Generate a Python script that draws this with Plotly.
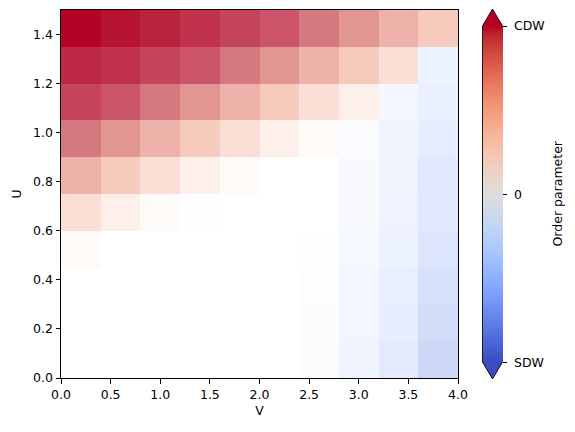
import plotly.graph_objects as go

# ---------------- data ----------------
V_centers = [0.2, 0.6, 1.0, 1.4, 1.8, 2.2, 2.6, 3.0, 3.4, 3.8]
U_centers = [0.075, 0.225, 0.375, 0.525, 0.675, 0.825, 0.975, 1.125, 1.275, 1.425]

# order parameter (+ CDW, - SDW), rows from U=0 (bottom) upward
order_row_u0 = [0, 0, 0, 0, 0, 0, -0.025, -0.10, -0.18, -0.30]
order_row_u1 = [0, 0, 0, 0, 0, 0, -0.02, -0.08, -0.15, -0.27]
order_row_u2 = [0, 0, 0, 0, 0, 0, -0.015, -0.07, -0.14, -0.25]
order_row_u3 = [0.03, 0, 0, 0, 0, 0, -0.01, -0.06, -0.12, -0.22]
order_row_u4 = [0.20, 0.10, 0.03, 0.005, 0, 0, 0, -0.04, -0.11, -0.19]
order_row_u5 = [0.42, 0.30, 0.20, 0.10, 0.03, 0, 0, -0.04, -0.10, -0.19]
order_row_u6 = [0.66, 0.55, 0.42, 0.30, 0.20, 0.10, 0.03, -0.03, -0.09, -0.16]
order_row_u7 = [0.83, 0.78, 0.66, 0.55, 0.42, 0.30, 0.20, 0.10, -0.07, -0.13]
order_row_u8 = [0.91, 0.88, 0.83, 0.78, 0.66, 0.55, 0.42, 0.30, 0.20, -0.12]
order_row_u9 = [1.00, 0.97, 0.93, 0.88, 0.83, 0.78, 0.66, 0.55, 0.42, 0.30]

z = [order_row_u0, order_row_u1, order_row_u2, order_row_u3, order_row_u4,
     order_row_u5, order_row_u6, order_row_u7, order_row_u8, order_row_u9]

x_ticks = [0.0, 0.5, 1.0, 1.5, 2.0, 2.5, 3.0, 3.5, 4.0]
y_ticks = [0.0, 0.2, 0.4, 0.6, 0.8, 1.0, 1.2, 1.4]
cbar_tickvals = [-1, 0, 1]
cbar_ticktext = ["SDW", "0", "CDW"]
cbar_title = "Order parameter"

# ---------------- colours ----------------
# displayed (translucent) cell colours as a function of the order parameter in [-1, 1]
cell_stops = [
    (-1.00, (59, 76, 192)),
    (-0.30, (205, 216, 247)),
    (-0.20, (224, 232, 254)),
    (-0.10, (239, 244, 255)),
    (-0.03, (250, 251, 254)),
    (0.00, (255, 255, 255)),
    (0.03, (254, 250, 247)),
    (0.10, (253, 240, 235)),
    (0.20, (251, 223, 214)),
    (0.30, (246, 203, 190)),
    (0.42, (238, 178, 170)),
    (0.55, (226, 150, 146)),
    (0.66, (214, 120, 128)),
    (0.78, (204, 85, 108)),
    (0.83, (197, 70, 92)),
    (0.88, (193, 50, 77)),
    (0.93, (186, 35, 62)),
    (0.97, (183, 20, 50)),
    (1.00, (180, 4, 38)),
]
cell_scale = [[(v + 1) / 2, "rgb(%d,%d,%d)" % c] for v, c in cell_stops]

coolwarm = [
    (59, 76, 192), (68, 90, 204), (77, 104, 215), (87, 117, 225), (98, 130, 234),
    (108, 142, 241), (119, 154, 247), (130, 165, 251), (141, 176, 254), (152, 185, 255),
    (163, 194, 255), (174, 201, 253), (184, 208, 249), (194, 213, 244), (204, 217, 238),
    (213, 219, 230), (221, 221, 221), (229, 216, 209), (236, 211, 197), (241, 204, 185),
    (245, 196, 173), (247, 187, 160), (247, 177, 148), (247, 166, 135), (244, 154, 123),
    (241, 141, 111), (236, 127, 99), (229, 112, 88), (222, 96, 77), (213, 80, 66),
    (203, 62, 56), (192, 40, 47), (180, 4, 38),
]
n = len(coolwarm) - 1
coolwarm_scale = [[i / n, "rgb(%d,%d,%d)" % c] for i, c in enumerate(coolwarm)]

FONT = "DejaVu Sans"
FS = 12.5

# ---------------- layout geometry (pixels) ----------------
W, H = 575, 432
L, R, T, B = 61, 458, 10, 378          # plot area edges
pw, ph = R - L, B - T

def px(xp):
    return (xp - L) / pw

def py(yp):
    return (B - yp) / ph

cb_left, cb_right = 482.5, 502.5
cb_top, cb_bot = 26, 362
tip_top, tip_bot = 9, 379
cb_mid_x = (cb_left + cb_right) / 2
cb_label_x = 511.5
cb_title_x = 556.5
CMIN, CMAX = -1, 1

def cb_y(v):
    # pixel row of colorbar value v
    return cb_bot - (v - CMIN) / (CMAX - CMIN) * (cb_bot - cb_top)

fig = go.Figure()

fig.add_trace(go.Heatmap(
    x=V_centers, y=U_centers, z=z,
    colorscale=cell_scale, zmin=-1, zmax=1,
    showscale=False, hoverinfo="skip",
))

# colorbar carrier (coolwarm)
fig.add_trace(go.Scatter(
    x=[2.0], y=[0.75], mode="markers",
    marker=dict(
        color=[0], colorscale=coolwarm_scale, cmin=CMIN, cmax=CMAX, opacity=0, size=1,
        showscale=True,
        colorbar=dict(
            x=px(cb_left), xanchor="left", xpad=0, ypad=0,
            y=py((cb_top + cb_bot) / 2), yanchor="middle",
            lenmode="pixels", len=cb_bot - cb_top,
            thicknessmode="pixels", thickness=cb_right - cb_left,
            outlinewidth=0,
            tickvals=cbar_tickvals, ticktext=[" " for _ in cbar_tickvals],
            showticklabels=False,
            ticks="outside", ticklen=4, tickwidth=1, tickcolor="black",
        ),
    ),
    hoverinfo="skip", showlegend=False,
))

shapes = [
    # extend triangles
    dict(type="path", xref="paper", yref="paper",
         path="M %f %f L %f %f L %f %f Z" % (px(cb_left), py(cb_top), px(cb_mid_x), py(tip_top),
                                           px(cb_right), py(cb_top)),
         fillcolor="rgb(180,4,38)", line=dict(width=0)),
    dict(type="path", xref="paper", yref="paper",
         path="M %f %f L %f %f L %f %f Z" % (px(cb_left), py(cb_bot), px(cb_mid_x), py(tip_bot),
                                           px(cb_right), py(cb_bot)),
         fillcolor="rgb(59,76,192)", line=dict(width=0)),
    # outline
    dict(type="path", xref="paper", yref="paper",
         path="M %f %f L %f %f L %f %f L %f %f L %f %f L %f %f Z" % (
             px(cb_left), py(cb_top), px(cb_mid_x), py(tip_top), px(cb_right), py(cb_top),
             px(cb_right), py(cb_bot), px(cb_mid_x), py(tip_bot), px(cb_left), py(cb_bot)),
         line=dict(color="black", width=0.9)),
]

annotations = [
    dict(text=t, xref="paper", yref="paper", x=px(cb_label_x), y=py(cb_y(v)),
         xanchor="left", yanchor="middle", showarrow=False,
         font=dict(family=FONT, size=FS, color="black"))
    for v, t in zip(cbar_tickvals, cbar_ticktext)
]
annotations.append(dict(
    text=cbar_title, xref="paper", yref="paper", x=px(cb_title_x), y=py(cb_y(0)),
    xanchor="center", yanchor="middle", textangle=-90, showarrow=False,
    font=dict(family=FONT, size=FS, color="black")))

axis_common = dict(
    showline=True, linecolor="black", linewidth=1, mirror=True,
    ticks="outside", ticklen=4.5, tickwidth=1, tickcolor="black",
    showgrid=False, zeroline=False,
    tickfont=dict(family=FONT, size=FS, color="black"),
    tickformat=".1f",
)

fig.update_layout(
    width=W, height=H,
    margin=dict(l=L, r=W - R, t=T, b=H - B),
    paper_bgcolor="white", plot_bgcolor="white",
    font=dict(family=FONT, size=FS, color="black"),
    xaxis=dict(range=[0, 4], tickvals=x_ticks,
               title=dict(text="V", font=dict(family=FONT, size=FS), standoff=5),
               **axis_common),
    yaxis=dict(range=[0, 1.5], tickvals=y_ticks,
               title=dict(text="U", font=dict(family=FONT, size=FS), standoff=8),
               **axis_common),
    shapes=shapes,
    annotations=annotations,
    showlegend=False,
)

fig.write_html("out.html")
